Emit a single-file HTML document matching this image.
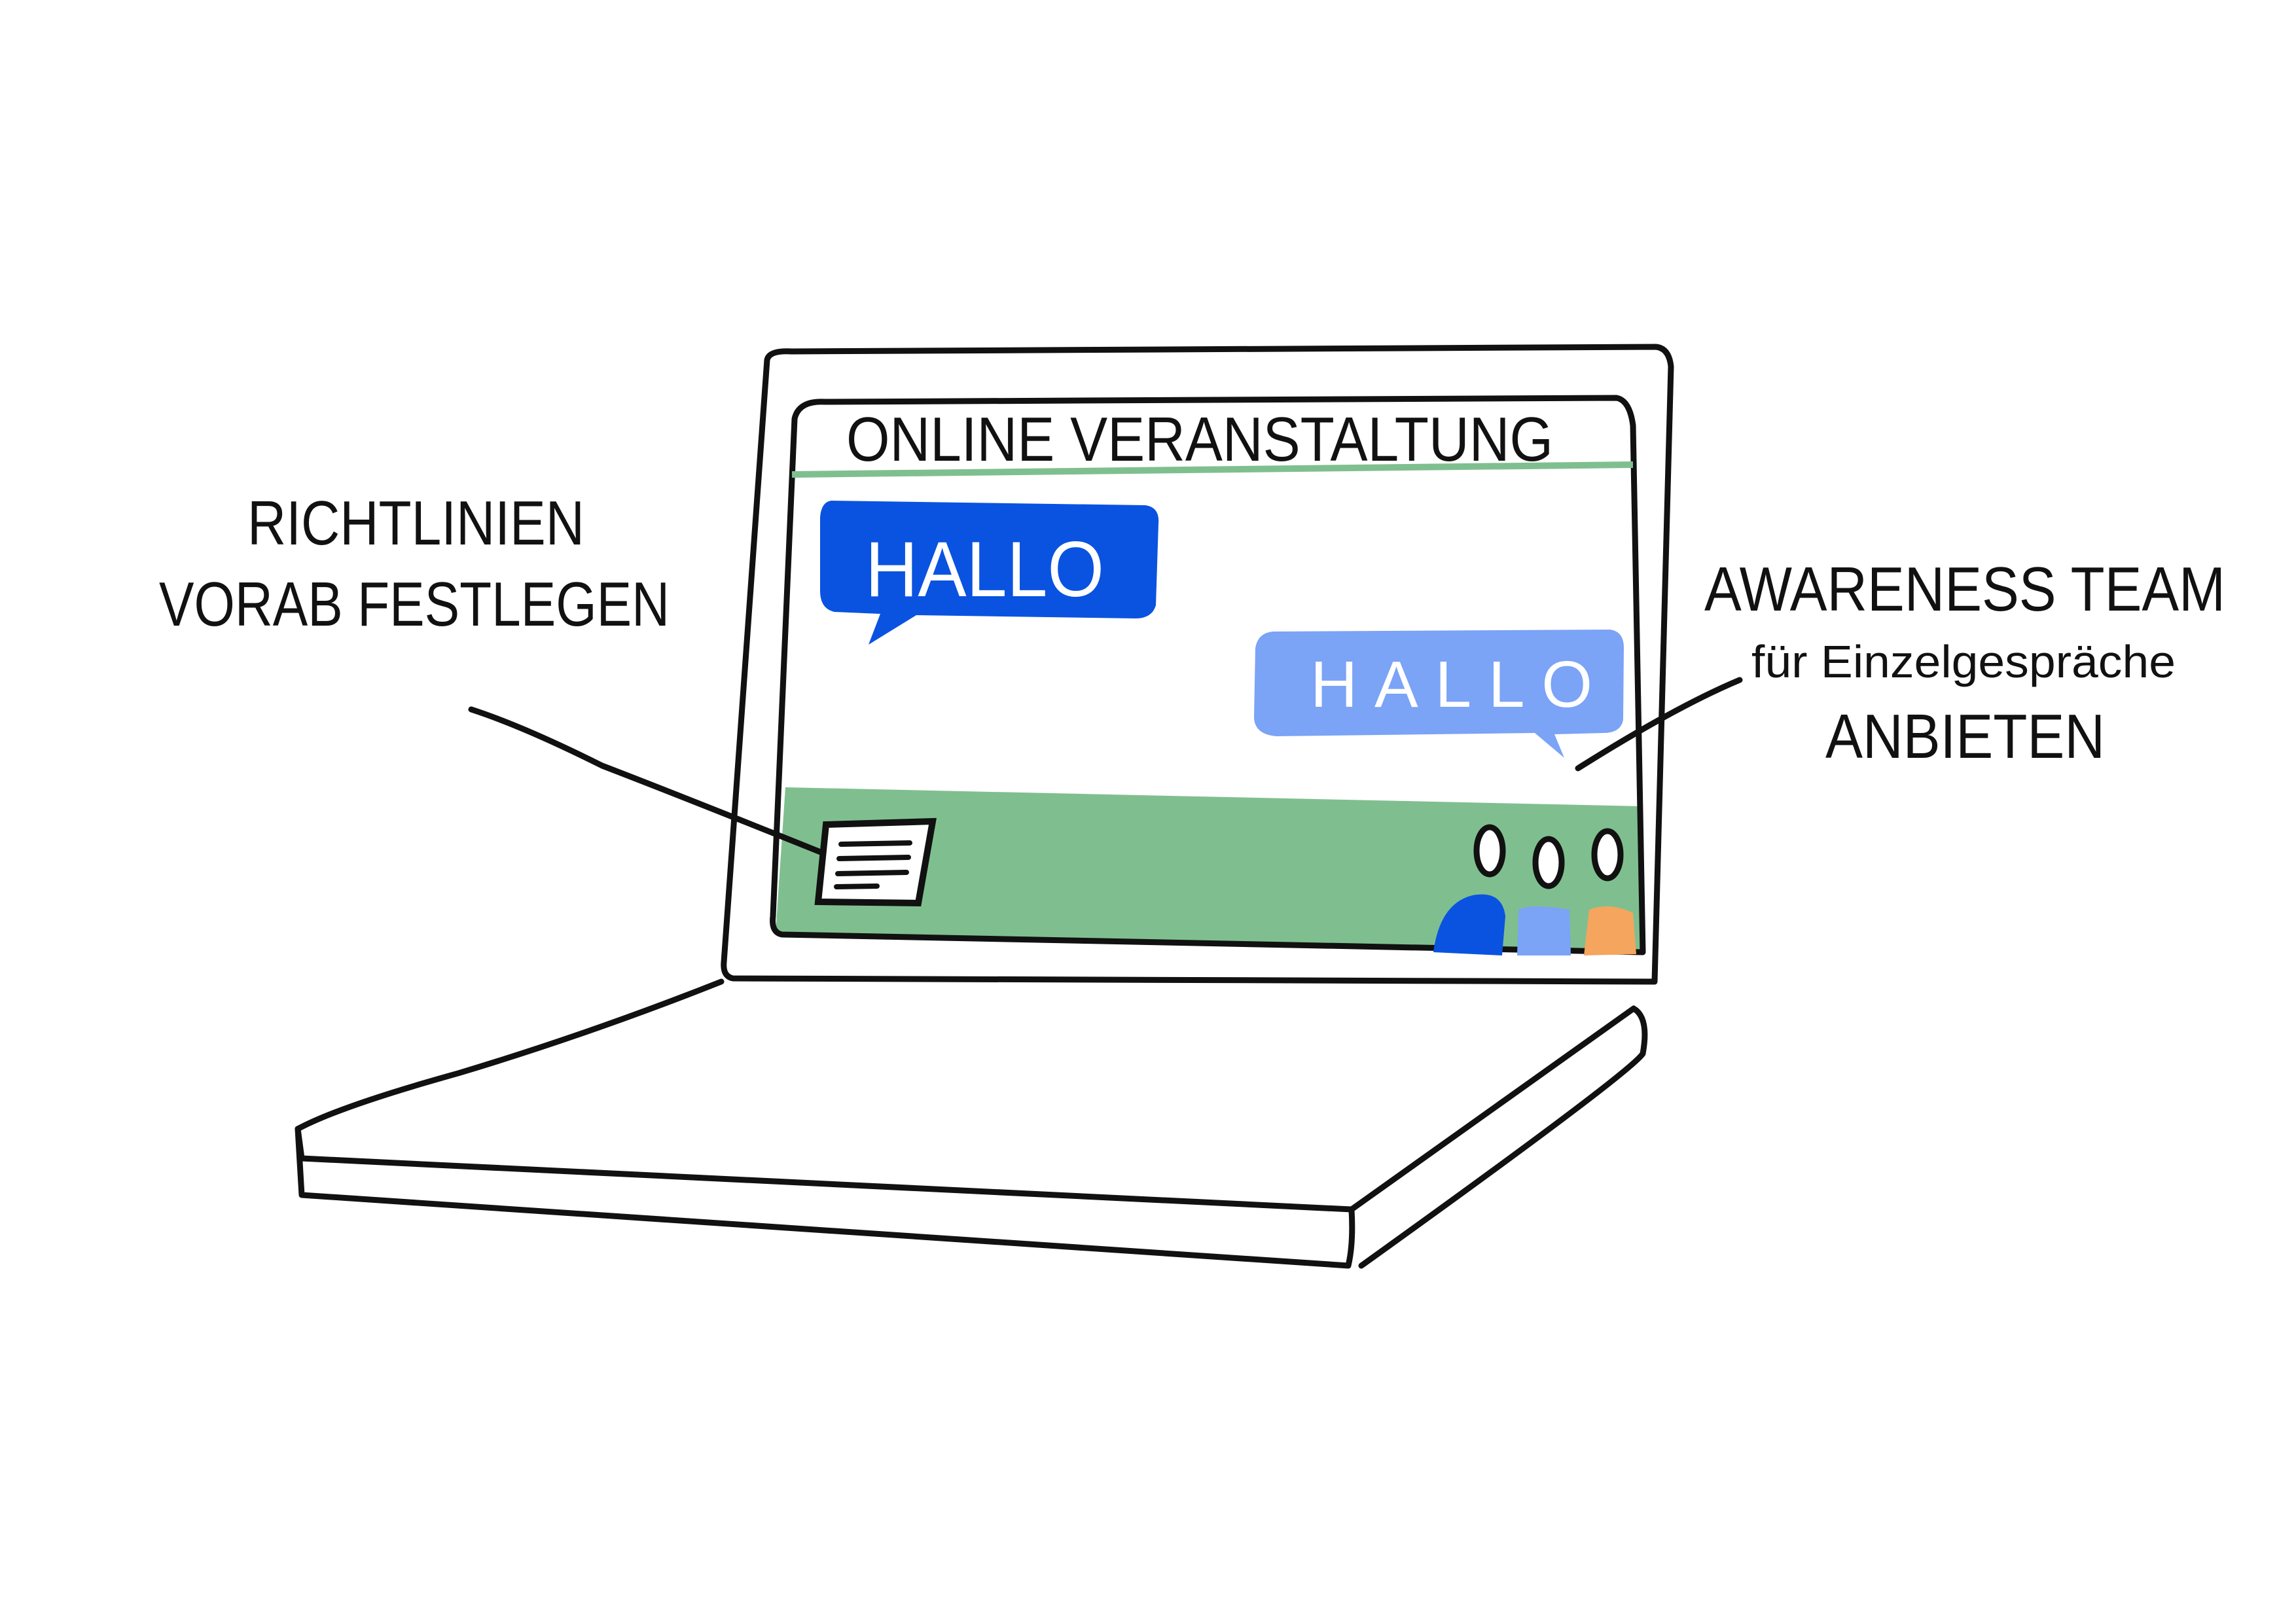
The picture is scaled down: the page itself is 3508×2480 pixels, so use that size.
<!DOCTYPE html>
<html><head><meta charset="utf-8"><style>
html,body{margin:0;padding:0;background:#fff;}
svg{display:block;}
text{font-family:"Liberation Sans",sans-serif;}
</style></head><body>
<svg width="3508" height="2480" viewBox="0 0 3508 2480" xmlns="http://www.w3.org/2000/svg">
<rect width="3508" height="2480" fill="#fff"/>
<g fill="none" stroke="#111" stroke-width="9" stroke-linecap="round" stroke-linejoin="round">
<path d="M1214,640 Q1220,612 1260,614 L2470,608 Q2490,612 2495,650 L2510,1455 L1181,1425 Z" fill="#fff" stroke="none"/>
<path d="M1200,1203 L2508,1232 L2510,1455 L1185,1425 Z" fill="#7fbf8f" stroke="none"/>
<path d="M1172,550 Q1175,535 1210,537 L2530,530 Q2550,532 2553,560 L2528,1500 L1120,1495 Q1104,1492 1106,1470 Z"/>
<path d="M1214,640 Q1220,612 1260,614 L2470,608 Q2490,612 2495,650 L2510,1455 L1195,1428 Q1178,1425 1181,1400 Z"/>
<path d="M1102,1500 Q900,1580 700,1640 Q520,1690 455,1725 L461,1770 L2065,1848 L2496,1541 Q2520,1555 2510,1610 Q2490,1640 2080,1934"/>
<path d="M455,1725 L461,1826 L2060,1934 Q2068,1900 2065,1849"/>
<path d="M720,1084 Q800,1110 920,1170 Q1050,1220 1271,1309"/>
<path d="M2658,1039 Q2560,1080 2411,1174"/>
</g>
<line x1="1210" y1="725" x2="2495" y2="710" stroke="#7fbf8f" stroke-width="10"/>
<path d="M1270,765 L1750,772 Q1772,775 1770,800 L1766,925 Q1760,945 1735,945 L1400,940 L1327,985 L1345,938 L1275,935 Q1252,930 1253,900 L1253,790 Q1255,767 1270,765Z" fill="#0a53e0"/>
<path d="M1945,965 L2460,962 Q2481,965 2481,990 L2480,1100 Q2476,1120 2450,1120 L2375,1122 L2390,1158 L2345,1120 L1950,1125 Q1916,1122 1916,1095 L1918,990 Q1922,967 1945,965Z" fill="#7ba3f6"/>
<text x="1322" y="911" font-size="120" fill="#fff" textLength="365" lengthAdjust="spacingAndGlyphs">HALLO</text>
<text x="2002" y="1080" font-size="100" fill="#fff" textLength="431" lengthAdjust="spacing">HALLO</text>
<path d="M1262,1260 L1425,1255 L1403,1380 L1250,1378 Z" fill="#fff" stroke="#111" stroke-width="10"/>
<g stroke="#111" stroke-width="8" stroke-linecap="round"><line x1="1285" y1="1290" x2="1390" y2="1288"/><line x1="1282" y1="1312" x2="1388" y2="1310"/><line x1="1280" y1="1335" x2="1385" y2="1333"/><line x1="1278" y1="1355" x2="1340" y2="1354"/></g>
<g stroke="#111" stroke-width="9" fill="#fff"><ellipse cx="2276" cy="1300" rx="20" ry="36"/><ellipse cx="2366" cy="1318" rx="20" ry="36"/><ellipse cx="2456" cy="1306" rx="20" ry="36"/></g>
<path d="M2190,1455 Q2200,1380 2250,1368 Q2295,1360 2300,1400 L2295,1460Z" fill="#0a53e0"/>
<path d="M2318,1460 L2320,1390 Q2340,1380 2398,1390 L2400,1460Z" fill="#7ba3f6"/>
<path d="M2420,1460 L2428,1390 Q2460,1378 2495,1395 L2500,1458Z" fill="#f5a55e"/>
<g fill="#111" font-size="96">
<text x="1293" y="704" textLength="1080" lengthAdjust="spacingAndGlyphs">ONLINE VERANSTALTUNG</text>
<text x="378" y="832" textLength="515" lengthAdjust="spacingAndGlyphs">RICHTLINIEN</text>
<text x="243" y="956" textLength="780" lengthAdjust="spacingAndGlyphs">VORAB FESTLEGEN</text>
<text x="2604" y="933" textLength="796" lengthAdjust="spacingAndGlyphs">AWARENESS TEAM</text>
<text x="2676" y="1035" font-size="70" textLength="648" lengthAdjust="spacingAndGlyphs">für Einzelgespräche</text>
<text x="2789" y="1158" textLength="427" lengthAdjust="spacingAndGlyphs">ANBIETEN</text>
</g>
</svg>
</body></html>
